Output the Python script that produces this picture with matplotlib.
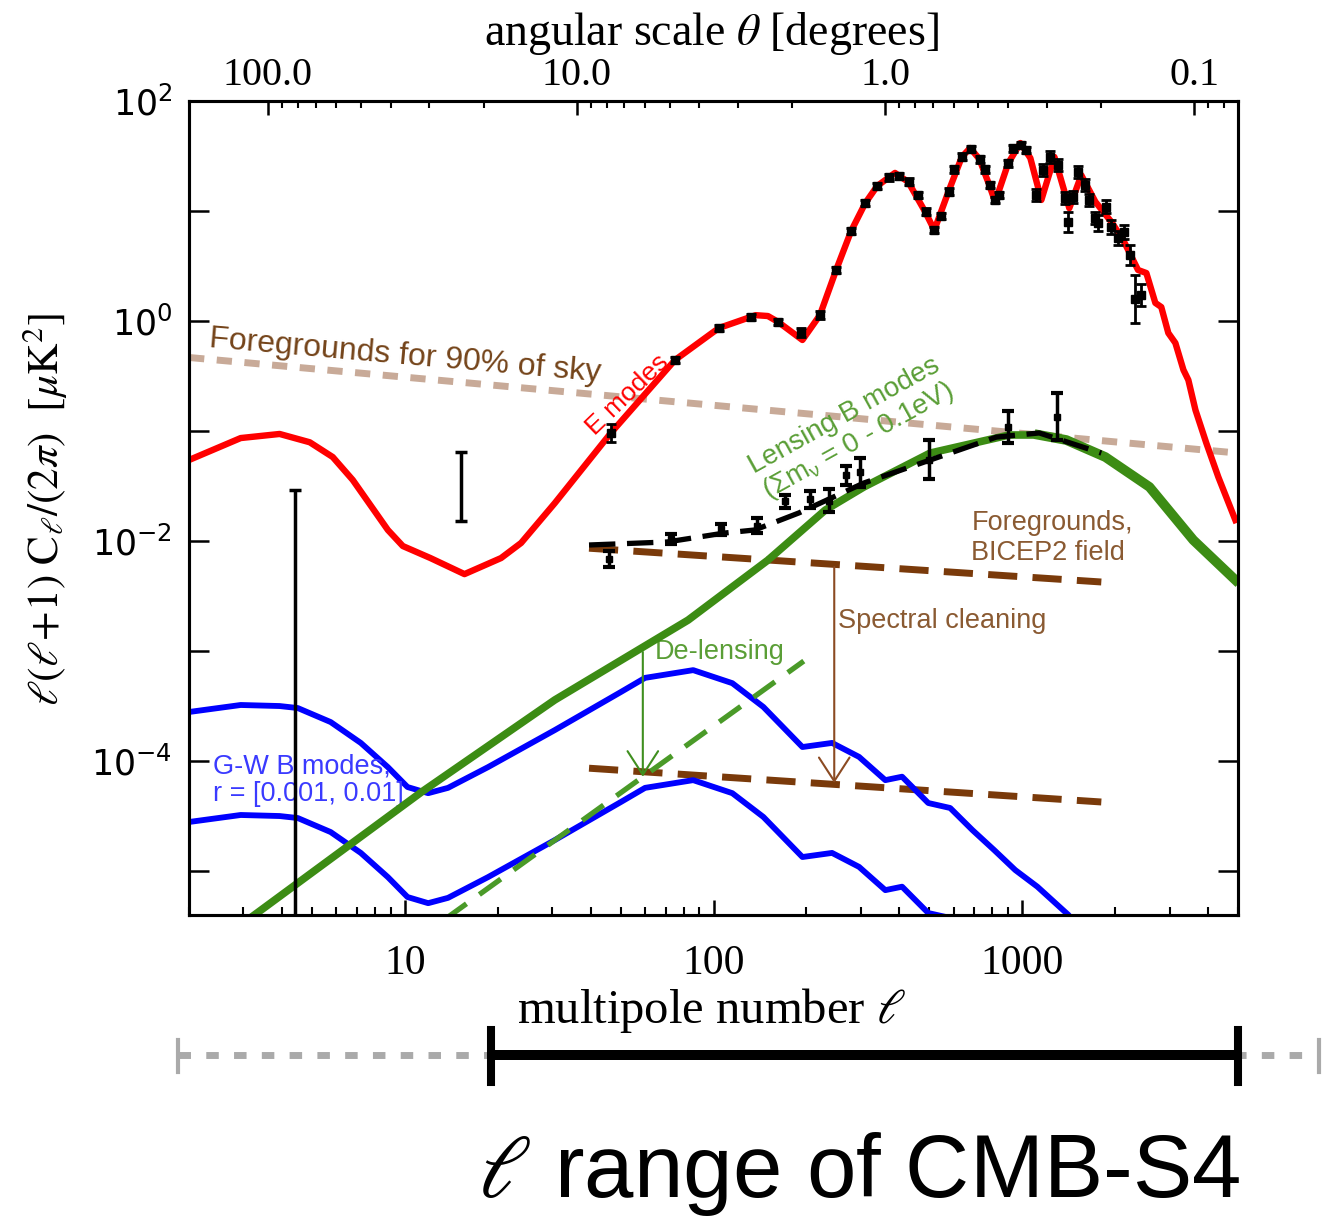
import matplotlib
matplotlib.use('Agg')
import matplotlib.pyplot as plt
import matplotlib.transforms as mtransforms
import numpy as np
from matplotlib.ticker import FixedLocator, LogLocator, NullFormatter

plt.rcParams['mathtext.fontset'] = 'stix'

SERIF = 'Liberation Serif'
SANS = 'Liberation Sans'

# E-mode theory curve (red)
ee_ell = [2, 2.94, 3.93, 4.92, 5.84, 6.78, 8.81, 9.85, 12.1, 15.6,
          20.5, 23.8, 30.6, 46.5, 75.0, 104, 137, 150, 162, 194,
          221, 249.5, 279, 310, 339, 387, 427, 485, 519, 576,
          637, 678, 726, 782, 817, 901, 986, 1062, 1153, 1271,
          1420, 1553, 1726, 1945, 2123, 2371, 2523, 2698, 2820, 2972,
          3133, 3327, 3451, 3639, 3945, 4315, 4900]
ee_cl = [0.0545, 0.0863, 0.094, 0.079, 0.058, 0.0359, 0.0126, 0.0090, 0.0070, 0.0050,
         0.0070, 0.0096, 0.0221, 0.096, 0.442, 0.863, 1.13, 1.11, 0.98, 0.672,
         1.13, 2.91, 6.58, 11.8, 16.9, 22.2, 18.4, 9.8, 6.7, 14.9,
         31, 37.4, 29.7, 17.2, 12.1, 27.3, 41.5, 30.3, 12.6, 31,
         10.6, 21.2, 12.1, 7.94, 5.45, 2.91, 2.73, 1.46, 1.34, 0.778,
         0.631, 0.359, 0.291, 0.155, 0.0778, 0.0382, 0.0155]

# E-mode measurements
e_ell = [46.6, 75.0, 104, 132.7, 162, 192, 221, 249.5, 279, 310,
         339, 370, 398, 429, 458, 486, 517, 545, 577, 602,
         637, 680, 727, 759, 784, 815, 842, 901, 931, 988,
         1028, 1110, 1170, 1230, 1309, 1375, 1409, 1463, 1520, 1600,
         1649, 1726, 1762, 1871, 1945, 2047, 2143, 2240, 2323, 2432]
e_val = [0.0953, 0.442, 0.863, 1.09, 0.98, 0.79, 1.13, 2.91, 6.58, 11.8,
         16.9, 20.2, 20.8, 18.5, 14.0, 9.86, 6.7, 9.0, 15.0, 23.9,
         31.2, 36.6, 29.5, 23.9, 17.2, 12.6, 14.0, 27.2, 37.2, 39.8,
         35.9, 14.0, 23.6, 31, 26.2, 13.1, 7.94, 13.4, 22.6, 17.2,
         12.6, 8.64, 7.78, 10.9, 7.16, 5.69, 6.44, 3.98, 1.58, 1.72]
e_err_dex = [0.082, 0.03, 0.03, 0.03, 0.03, 0.04, 0.035, 0.03, 0.03, 0.03,
             0.03, 0.03, 0.03, 0.03, 0.03, 0.03, 0.03, 0.03, 0.03, 0.03,
             0.03, 0.03, 0.03, 0.03, 0.03, 0.03, 0.03, 0.03, 0.03, 0.03,
             0.03, 0.055, 0.055, 0.055, 0.055, 0.055, 0.09, 0.055, 0.055, 0.055,
             0.055, 0.055, 0.075, 0.06, 0.06, 0.06, 0.06, 0.09, 0.22, 0.1]

# B-mode measurements (lower / upper end of each bar)
bb_ell = [46, 72.8, 106, 138, 171, 205, 236, 268, 298, 500, 901, 1298]
bb_lo = [5.8e-3, 9.4e-3, 0.01135, 0.0118, 0.020, 0.020, 0.0183, 0.0323, 0.031, 0.0366, 0.0778, 0.0828]
bb_hi = [8.1e-3, 0.0116, 0.0143, 0.0162, 0.0262, 0.0285, 0.0297, 0.0481, 0.0569, 0.0828, 0.152, 0.221]

# low-ell bars without a point
lim_ell = [4.4, 15.2]
lim_lo = [1e-7, 0.0152]
lim_hi = [0.0291, 0.0644]

# lensing B modes (green), delensed (green dashed), lensing + foreground (black dashed)
lens_ell = [3.1, 11.3, 30.6, 82.7, 150, 230, 307, 503, 699, 907, 1135, 1389, 1858, 2582, 3581, 4900]
lens_cl = [3.6e-6, 5.2e-5, 3.59e-4, 1.91e-3, 6.7e-3, 0.0191, 0.031, 0.063, 0.0778, 0.092,
           0.092, 0.0828, 0.058, 0.031, 0.0102, 4.42e-3]
delens_ell = [13.5, 196]
delens_cl = [3.65e-6, 8.1e-4]
tot_ell = [39.5, 70.7, 108, 136, 189, 307, 503, 824, 1135, 1803]
tot_cl = [9.2e-3, 9.8e-3, 0.0118, 0.0126, 0.018, 0.0337, 0.0545, 0.088, 0.096, 0.063]

# gravitational-wave B modes, r = 0.01 and r = 0.001
gw_ell = [2, 2.94, 3.93, 4.5, 5.75, 7.2, 8.81, 10.2, 11.9, 13.8,
          18.6, 30.6, 50.1, 60, 85.9, 115, 145, 194, 242, 296,
          360, 408, 496, 584, 689, 811, 949, 1119, 1409, 1640]
gw_r01 = [2.79e-4, 3.23e-4, 3.16e-4, 3.03e-4, 2.26e-4, 1.46e-4, 8.8e-5, 5.8e-5, 5.1e-5, 5.7e-5,
          8.8e-5, 1.91e-4, 4.24e-4, 5.7e-4, 6.7e-4, 5.1e-4, 3.1e-4, 1.34e-4, 1.46e-4, 1.09e-4,
          6.7e-5, 7.2e-5, 4.15e-5, 3.74e-5, 2.36e-5, 1.55e-5, 1.02e-5, 7.2e-6, 4.0e-6, 2.36e-6]
gw_ell_low = [2, 2.94, 3.93, 4.5, 5.75, 7.2, 8.81, 10.2, 11.9, 13.8,
              18.6, 30.6, 50.1, 60, 85.9, 115, 145, 194, 242, 296,
              360, 408, 496, 584, 689]
gw_r001 = [2.79e-5, 3.23e-5, 3.16e-5, 3.03e-5, 2.26e-5, 1.46e-5, 8.8e-6, 5.8e-6, 5.1e-6, 5.7e-6,
           8.8e-6, 1.91e-5, 4.24e-5, 5.7e-5, 6.7e-5, 5.1e-5, 3.1e-5, 1.34e-5, 1.46e-5, 1.09e-5,
           6.7e-6, 7.2e-6, 4.15e-6, 3.74e-6, 2.36e-6]

# foregrounds
fg_ell = [2, 5000]
fg_cl = [0.466, 0.063]
bk_ell = [39.5, 1803]
bk_before = [8.6e-3, 4.24e-3]
bk_after = [8.6e-5, 4.24e-5]

# arrows (ell, from, to)
clean_arrow = (246, 5.8e-3, 6.3e-5)
delens_arrow = (59, 9.8e-4, 7.2e-5)

# ell range bars
full_range = [1.84, 9120]
s4_range = [19, 5000]

BROWN = '#74441a'
BROWN2 = '#8a5a32'
GREEN = '#3c8c14'
GREEN_TXT = '#5a9e36'

fig = plt.figure(figsize=(13.23, 12.2), dpi=100)
ax = fig.add_axes([0.1429, 0.25, 0.7929, 0.6672])
ax.set_xscale('log')
ax.set_yscale('log')
ax.set_xlim(2, 5000)
ax.set_ylim(10 ** -5.4, 100)

ax.plot(fg_ell, fg_cl, color='#c8aa98', lw=5, dashes=(2.2, 1.8), zorder=2)
ax.plot(bk_ell, bk_before, color='#7a3a0a', lw=5, dashes=(4.2, 2.2), zorder=2)
ax.plot(bk_ell, bk_after, color='#7a3a0a', lw=5, dashes=(4.2, 2.2), zorder=2)
ax.plot(gw_ell, gw_r01, color='blue', lw=4.2, zorder=3)
ax.plot(gw_ell_low, gw_r001, color='blue', lw=4.2, zorder=3)
ax.plot(ee_ell, ee_cl, color='red', lw=4.6, zorder=3)
ax.plot(delens_ell, delens_cl, color='#4a9a28', lw=3.8, dashes=(5, 3), zorder=3)
ax.plot(lens_ell, lens_cl, color=GREEN, lw=5.5, zorder=4)
ax.plot(lens_ell[10:], lens_cl[10:], color=GREEN, lw=7, zorder=4)
ax.plot(tot_ell, tot_cl, color='k', lw=3.8, dashes=(5, 2.2), zorder=5)

e_val = np.array(e_val)
d = np.array(e_err_dex)
ax.errorbar(e_ell, e_val, yerr=[e_val * (1 - 10 ** -d), e_val * (10 ** d - 1)],
            fmt='s', ms=6, color='k', elinewidth=2, capsize=3.5, capthick=2, zorder=6)

bb_lo = np.array(bb_lo)
bb_hi = np.array(bb_hi)
bb_mid = np.sqrt(bb_lo * bb_hi)
ax.errorbar(bb_ell, bb_mid, yerr=[bb_mid - bb_lo, bb_hi - bb_mid],
            fmt='s', ms=4.5, color='k', elinewidth=2.5, capsize=4.5, capthick=3, zorder=6)

lim_lo = np.array(lim_lo)
lim_hi = np.array(lim_hi)
lim_mid = np.sqrt(lim_lo * lim_hi)
ax.errorbar(lim_ell, lim_mid, yerr=[lim_mid - lim_lo, lim_hi - lim_mid],
            fmt='none', ecolor='k', elinewidth=2.5, capsize=4.5, capthick=2.5, zorder=6)

for (l, y0, y1), col in [(clean_arrow, '#8b4a22'), (delens_arrow, '#3f8f1f')]:
    ax.annotate('', xy=(l, y1), xytext=(l, y0),
                arrowprops=dict(arrowstyle='->,head_length=1.7,head_width=1.1', color=col,
                                lw=1.5, shrinkA=0, shrinkB=0, mutation_scale=10), zorder=5)

# labels inside the plot
ax.text(2.32, 0.58, 'Foregrounds for 90% of sky', rotation=-5, rotation_mode='anchor',
        ha='left', va='baseline', fontsize=23, color=BROWN, family=SANS)
ax.text(52.5, 0.212, 'E modes', rotation=44, rotation_mode='anchor', ha='center',
        va='center', fontsize=19, color='red', family=SANS)
ax.text(280, 0.104, 'Lensing B modes\n($\\mathregular{\\Sigma m_\\nu}$ = 0 - 0.1eV)', rotation=29,
        rotation_mode='anchor', ha='center', va='center', multialignment='center',
        fontsize=20, color=GREEN_TXT, family=SANS, linespacing=1.0)
ax.text(684, 0.0191, 'Foregrounds,\nBICEP2 field', ha='left', va='top', fontsize=19.5,
        color=BROWN2, family=SANS, linespacing=1.2)
ax.text(253, 1.87e-3, 'Spectral cleaning', ha='left', va='center', fontsize=19.5,
        color=BROWN2, family=SANS)
ax.text(64.6, 9.8e-4, 'De-lensing', ha='left', va='center', fontsize=19.5,
        color=GREEN_TXT, family=SANS)
ax.text(2.39, 6.7e-5, 'G-W B modes,\nr = [0.001, 0.01]', ha='left', va='center',
        fontsize=19.5, color='#3a3aff', family=SANS, linespacing=1.1)

# axes, ticks
ax.set_xticks([10, 100, 1000], ['10', '100', '1000'], fontfamily=SERIF, fontsize=30)
ax.xaxis.set_minor_locator(LogLocator(base=10, subs=np.arange(2, 10), numticks=20))
ax.xaxis.set_minor_formatter(NullFormatter())
ax.set_yticks([1e-4, 1e-2, 1, 1e2],
              ['$\\mathregular{10^{-4}}$', '$\\mathregular{10^{-2}}$',
               '$\\mathregular{10^{0}}$', '$\\mathregular{10^{2}}$'],
              fontfamily='DejaVu Sans', fontsize=25)
ax.yaxis.set_minor_locator(FixedLocator([1e-5, 1e-3, 1e-1, 1e1]))
ax.yaxis.set_minor_formatter(NullFormatter())
ax.tick_params(axis='y', which='both', direction='in', length=14.4, width=1.8,
               left=True, right=True, pad=12)
ax.tick_params(axis='x', which='major', direction='in', length=11, width=1.8, top=False, pad=21)
ax.tick_params(axis='x', which='minor', direction='in', length=5.5, width=1.5, top=False)

ax_t = ax.twiny()
ax_t.set_xscale('log')
ax_t.set_xlim(360 / 2, 360 / 5000)
ax_t.set_xticks([100, 10, 1, 0.1], ['100.0', '10.0', '1.0', '0.1'], fontfamily=SERIF, fontsize=29)
ax_t.xaxis.set_minor_locator(LogLocator(base=10, subs=np.arange(2, 10), numticks=20))
ax_t.xaxis.set_minor_formatter(NullFormatter())
ax_t.tick_params(axis='x', which='major', direction='in', length=10, width=1.8, pad=5)
ax_t.tick_params(axis='x', which='minor', direction='in', length=5, width=1.5)

for a in (ax, ax_t):
    for sp in a.spines.values():
        sp.set_linewidth(2.2)

fig.text(0.538, 0.9635, 'angular scale $\\theta$ [degrees]', ha='center', va='baseline',
         fontsize=33, family=SERIF)
fig.text(0.538, 0.172, 'multipole number $\\ell$', ha='center', va='center',
         fontsize=35, family=SERIF)
fig.text(0.034, 0.582, '$\\ell(\\ell\\!+\\!1)\\ \\mathrm{C}_{\\ell}/(2\\pi)\\ \\ [\\mu\\mathrm{K}^2]$',
         rotation=90, ha='center', va='center', fontsize=31)

# ell range of CMB-S4
trans = mtransforms.blended_transform_factory(ax.transData, fig.transFigure)
ax.plot(full_range, [0.1352, 0.1352], transform=trans, clip_on=False, color='#aaaaaa',
        lw=5, dashes=(1.8, 2.2))
for e in full_range:
    ax.plot([e, e], [0.1213, 0.1475], transform=trans, clip_on=False, color='#aaaaaa', lw=3)
ax.plot(s4_range, [0.1352, 0.1352], transform=trans, clip_on=False, color='k', lw=7.2,
        solid_capstyle='butt')
for e in s4_range:
    ax.plot([e, e], [0.1131, 0.1557], transform=trans, clip_on=False, color='k', lw=5.8)

fig.text(0.937, 0.019, '$\\ell$ range of CMB-S4', ha='right', va='baseline', fontsize=64,
         family=SANS)

fig.savefig('out.png', dpi=100)
